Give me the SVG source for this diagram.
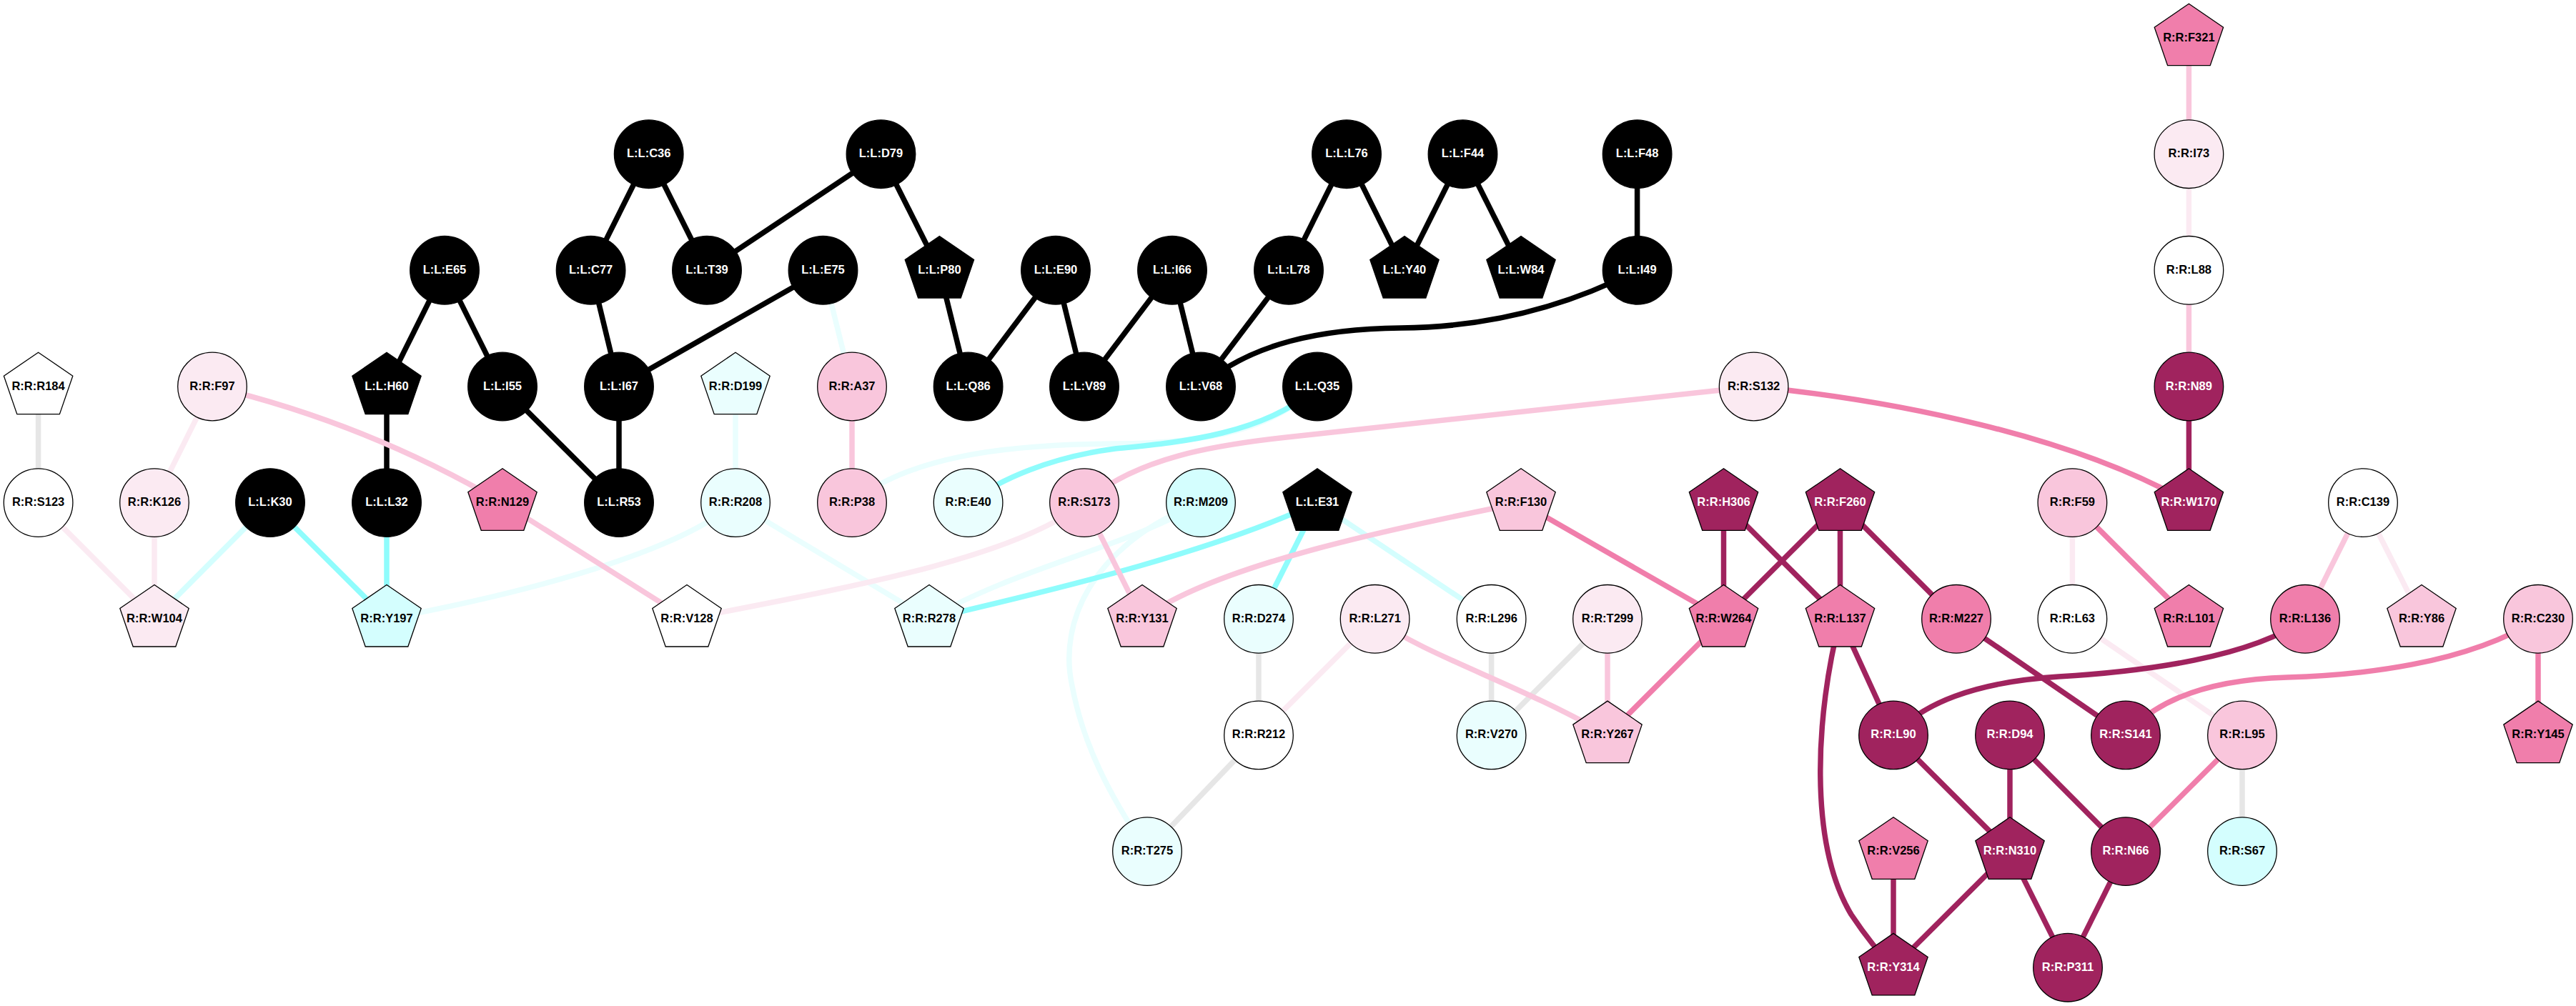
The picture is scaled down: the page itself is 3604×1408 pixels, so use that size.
<svg xmlns="http://www.w3.org/2000/svg" width="3604" height="1408" viewBox="0 0 3604 1408">
<style>
.e{fill:none;stroke-width:7.5}
.k{stroke:#000}
.dm{stroke:#a0235e}
.mp{stroke:#f07eab}
.pk{stroke:#f9c6dc}
.lp{stroke:#fbeaf2}
.cy{stroke:#8ffcfc}
.lc{stroke:#d4fefe}
.vc{stroke:#eafefe}
.gr{stroke:#e6e6e6}
.n{stroke:#000;stroke-width:1.3}
.fk{fill:#000}
.fdm{fill:#a0235e}
.fmp{fill:#f07eab}
.fpk{fill:#f9c6dc}
.flp{fill:#fbeaf2}
.flc{fill:#d4fefe}
.fvc{fill:#eafefe}
.fw{fill:#fff}
text{font-family:"Liberation Sans",Arial,sans-serif;font-weight:bold;font-size:16.5px;text-anchor:middle;fill:#000}
text.w{fill:#fff}
</style>
<defs>
<ellipse id="c" rx="48.3" ry="47.8"/>
<polygon id="p" points="0,-47.8 48.2,-14.8 29.8,38.7 -29.8,38.7 -48.2,-14.8"/>
</defs>
<g id="edges">
<!-- black -->
<line class="e k" x1="907.7" y1="215.7" x2="826.6" y2="378.3"/>
<line class="e k" x1="907.7" y1="215.7" x2="989" y2="378.3"/>
<line class="e k" x1="1232.5" y1="215.7" x2="989" y2="378.3"/>
<line class="e k" x1="1232.5" y1="215.7" x2="1314.4" y2="378.3"/>
<line class="e k" x1="622" y1="378.3" x2="541" y2="541"/>
<line class="e k" x1="622" y1="378.3" x2="703" y2="541"/>
<line class="e k" x1="826.6" y1="378.3" x2="866" y2="541"/>
<line class="e k" x1="1151.5" y1="378.3" x2="866" y2="541"/>
<line class="e k" x1="703" y1="541" x2="866" y2="703.6"/>
<line class="e k" x1="866" y1="541" x2="866" y2="703.6"/>
<line class="e k" x1="541" y1="541" x2="541" y2="703.6"/>
<line class="e k" x1="1314.4" y1="378.3" x2="1354.6" y2="541"/>
<line class="e k" x1="1477" y1="378.3" x2="1354.6" y2="541"/>
<line class="e k" x1="1477" y1="378.3" x2="1517" y2="541"/>
<line class="e k" x1="1640" y1="378.3" x2="1517" y2="541"/>
<line class="e k" x1="1640" y1="378.3" x2="1680" y2="541"/>
<line class="e k" x1="1803" y1="378.3" x2="1680" y2="541"/>
<line class="e k" x1="1884" y1="215.7" x2="1803" y2="378.3"/>
<line class="e k" x1="1884" y1="215.7" x2="1965" y2="378.3"/>
<line class="e k" x1="2046.5" y1="215.7" x2="1965" y2="378.3"/>
<line class="e k" x1="2046.5" y1="215.7" x2="2128" y2="378.3"/>
<line class="e k" x1="2290.6" y1="215.7" x2="2290.6" y2="378.3"/>
<path class="e k" d="M2290.6,378.3 C2190,430 2080,458 1960,459 C1850,460 1750,480 1680,541"/>
<!-- cyan -->
<line class="e lc" x1="378" y1="703.6" x2="216" y2="866.3"/>
<line class="e cy" x1="378" y1="703.6" x2="541" y2="866.3"/>
<line class="e cy" x1="541" y1="703.6" x2="541" y2="866.3"/>
<path class="e vc" d="M1192,703.6 C1270,640 1400,622 1560,621 C1700,620 1780,600 1843,541"/>
<path class="e cy" d="M1843,541 C1770,610 1640,620 1560,628 C1470,640 1400,670 1354.6,703.6"/>
<line class="e vc" x1="1151.5" y1="378.3" x2="1192" y2="541"/>
<line class="e vc" x1="1029" y1="541" x2="1029" y2="703.6"/>
<path class="e vc" d="M1029,703.6 C950,770 760,825 541,866.3"/>
<line class="e vc" x1="1029" y1="703.6" x2="1300" y2="866.3"/>
<path class="e vc" d="M1680,703.6 C1580,765 1420,795 1300,866.3"/>
<path class="e vc" d="M1680,703.6 C1530,760 1480,870 1500,960 C1515,1040 1550,1110 1605,1191.6"/>
<path class="e cy" d="M1843,703.6 C1700,770 1500,820 1300,866.3"/>
<line class="e cy" x1="1843" y1="703.6" x2="1761" y2="866.3"/>
<line class="e lc" x1="1843" y1="703.6" x2="2086.6" y2="866.3"/>
<!-- gray -->
<line class="e gr" x1="53.6" y1="541" x2="53.6" y2="703.6"/>
<line class="e gr" x1="1761" y1="866.3" x2="1761" y2="1028.9"/>
<line class="e gr" x1="1761" y1="1028.9" x2="1605" y2="1191.6"/>
<line class="e gr" x1="2086.6" y1="866.3" x2="2086.6" y2="1028.9"/>
<line class="e gr" x1="2249" y1="866.3" x2="2086.6" y2="1028.9"/>
<line class="e gr" x1="3137" y1="1028.9" x2="3137" y2="1191.6"/>
<!-- light pink -->
<line class="e lp" x1="53.6" y1="703.6" x2="216" y2="866.3"/>
<line class="e lp" x1="216" y1="703.6" x2="216" y2="866.3"/>
<line class="e lp" x1="297" y1="541" x2="216" y2="703.6"/>
<line class="e lp" x1="1923.6" y1="866.3" x2="1761" y2="1028.9"/>
<path class="e lp" d="M1517,703.6 C1420,780 1200,820 961,866.3"/>
<line class="e lp" x1="3062.4" y1="215.7" x2="3062.4" y2="378.3"/>
<line class="e lp" x1="2899.4" y1="703.6" x2="2899.4" y2="866.3"/>
<line class="e lp" x1="2899.4" y1="866.3" x2="3137" y2="1028.9"/>
<line class="e lp" x1="3306" y1="703.6" x2="3388" y2="866.3"/>
<!-- pink -->
<path class="e pk" d="M297,541 C420,570 560,620 703,703.6"/>
<line class="e pk" x1="703" y1="703.6" x2="961" y2="866.3"/>
<line class="e pk" x1="1192" y1="541" x2="1192" y2="703.6"/>
<path class="e pk" d="M2453.6,541 L1800,612 C1700,623 1590,640 1517,703.6"/>
<line class="e pk" x1="1517" y1="703.6" x2="1598" y2="866.3"/>
<path class="e pk" d="M2128,703.6 C1950,740 1700,790 1598,866.3"/>
<path class="e pk" d="M1923.6,866.3 C2000,920 2120,955 2249,1028.9"/>
<line class="e pk" x1="2249" y1="866.3" x2="2249" y2="1028.9"/>
<line class="e pk" x1="3062.4" y1="53" x2="3062.4" y2="215.7"/>
<line class="e pk" x1="3062.4" y1="378.3" x2="3062.4" y2="541"/>
<line class="e pk" x1="3306" y1="703.6" x2="3225" y2="866.3"/>
<!-- medium pink -->
<path class="e mp" d="M2453.6,541 C2650,560 2900,610 3062.4,703.6"/>
<line class="e mp" x1="2128" y1="703.6" x2="2411.5" y2="866.3"/>
<line class="e mp" x1="2411.5" y1="866.3" x2="2249" y2="1028.9"/>
<line class="e mp" x1="2899.4" y1="703.6" x2="3062.4" y2="866.3"/>
<path class="e mp" d="M3551,866.3 C3450,930 3300,945 3200,948 C3100,951 3020,975 2974,1028.9"/>
<line class="e mp" x1="3551" y1="866.3" x2="3551" y2="1028.9"/>
<line class="e mp" x1="3137" y1="1028.9" x2="2974" y2="1191.6"/>
<!-- dark magenta -->
<line class="e dm" x1="2411.5" y1="703.6" x2="2411.5" y2="866.3"/>
<line class="e dm" x1="2411.5" y1="703.6" x2="2574.5" y2="866.3"/>
<line class="e dm" x1="2574.5" y1="703.6" x2="2411.5" y2="866.3"/>
<line class="e dm" x1="2574.5" y1="703.6" x2="2574.5" y2="866.3"/>
<line class="e dm" x1="2574.5" y1="703.6" x2="2737" y2="866.3"/>
<line class="e dm" x1="3062.4" y1="541" x2="3062.4" y2="703.6"/>
<line class="e dm" x1="2574.5" y1="866.3" x2="2649" y2="1028.9"/>
<path class="e dm" d="M2574.5,866.3 C2540,1000 2530,1180 2590,1280 C2610,1310 2630,1335 2649,1354.2"/>
<line class="e dm" x1="2737" y1="866.3" x2="2974" y2="1028.9"/>
<path class="e dm" d="M3225,866.3 C3150,920 3000,940 2880,947 C2760,955 2690,985 2649,1028.9"/>
<line class="e dm" x1="2649" y1="1028.9" x2="2812" y2="1191.6"/>
<line class="e dm" x1="2812" y1="1028.9" x2="2812" y2="1191.6"/>
<line class="e dm" x1="2812" y1="1028.9" x2="2974" y2="1191.6"/>
<line class="e dm" x1="2649" y1="1191.6" x2="2649" y2="1354.2"/>
<line class="e dm" x1="2812" y1="1191.6" x2="2649" y2="1354.2"/>
<line class="e dm" x1="2812" y1="1191.6" x2="2893" y2="1354.2"/>
<line class="e dm" x1="2974" y1="1191.6" x2="2893" y2="1354.2"/>
</g>
<g id="nodes">
<g id="n-L-C36"><use href="#c" x="907.7" y="215.7" class="n fk"/><text class="w" x="907.7" y="220.2">L:L:C36</text></g>
<g id="n-L-D79"><use href="#c" x="1232.5" y="215.7" class="n fk"/><text class="w" x="1232.5" y="220.2">L:L:D79</text></g>
<g id="n-L-L76"><use href="#c" x="1884" y="215.7" class="n fk"/><text class="w" x="1884" y="220.2">L:L:L76</text></g>
<g id="n-L-F44"><use href="#c" x="2046.5" y="215.7" class="n fk"/><text class="w" x="2046.5" y="220.2">L:L:F44</text></g>
<g id="n-L-F48"><use href="#c" x="2290.6" y="215.7" class="n fk"/><text class="w" x="2290.6" y="220.2">L:L:F48</text></g>
<g id="n-R-F321"><use href="#p" x="3062.4" y="53" class="n fmp"/><text x="3062.4" y="57.5">R:R:F321</text></g>
<g id="n-R-I73"><use href="#c" x="3062.4" y="215.7" class="n flp"/><text x="3062.4" y="220.2">R:R:I73</text></g>
<g id="n-L-E65"><use href="#c" x="622" y="378.3" class="n fk"/><text class="w" x="622" y="382.8">L:L:E65</text></g>
<g id="n-L-C77"><use href="#c" x="826.6" y="378.3" class="n fk"/><text class="w" x="826.6" y="382.8">L:L:C77</text></g>
<g id="n-L-T39"><use href="#c" x="989" y="378.3" class="n fk"/><text class="w" x="989" y="382.8">L:L:T39</text></g>
<g id="n-L-E75"><use href="#c" x="1151.5" y="378.3" class="n fk"/><text class="w" x="1151.5" y="382.8">L:L:E75</text></g>
<g id="n-L-P80"><use href="#p" x="1314.4" y="378.3" class="n fk"/><text class="w" x="1314.4" y="382.8">L:L:P80</text></g>
<g id="n-L-E90"><use href="#c" x="1477" y="378.3" class="n fk"/><text class="w" x="1477" y="382.8">L:L:E90</text></g>
<g id="n-L-I66"><use href="#c" x="1640" y="378.3" class="n fk"/><text class="w" x="1640" y="382.8">L:L:I66</text></g>
<g id="n-L-L78"><use href="#c" x="1803" y="378.3" class="n fk"/><text class="w" x="1803" y="382.8">L:L:L78</text></g>
<g id="n-L-Y40"><use href="#p" x="1965" y="378.3" class="n fk"/><text class="w" x="1965" y="382.8">L:L:Y40</text></g>
<g id="n-L-W84"><use href="#p" x="2128" y="378.3" class="n fk"/><text class="w" x="2128" y="382.8">L:L:W84</text></g>
<g id="n-L-I49"><use href="#c" x="2290.6" y="378.3" class="n fk"/><text class="w" x="2290.6" y="382.8">L:L:I49</text></g>
<g id="n-R-L88"><use href="#c" x="3062.4" y="378.3" class="n fw"/><text x="3062.4" y="382.8">R:R:L88</text></g>
<g id="n-R-R184"><use href="#p" x="53.6" y="541" class="n fw"/><text x="53.6" y="545.5">R:R:R184</text></g>
<g id="n-R-F97"><use href="#c" x="297" y="541" class="n flp"/><text x="297" y="545.5">R:R:F97</text></g>
<g id="n-L-H60"><use href="#p" x="541" y="541" class="n fk"/><text class="w" x="541" y="545.5">L:L:H60</text></g>
<g id="n-L-I55"><use href="#c" x="703" y="541" class="n fk"/><text class="w" x="703" y="545.5">L:L:I55</text></g>
<g id="n-L-I67"><use href="#c" x="866" y="541" class="n fk"/><text class="w" x="866" y="545.5">L:L:I67</text></g>
<g id="n-R-D199"><use href="#p" x="1029" y="541" class="n fvc"/><text x="1029" y="545.5">R:R:D199</text></g>
<g id="n-R-A37"><use href="#c" x="1192" y="541" class="n fpk"/><text x="1192" y="545.5">R:R:A37</text></g>
<g id="n-L-Q86"><use href="#c" x="1354.6" y="541" class="n fk"/><text class="w" x="1354.6" y="545.5">L:L:Q86</text></g>
<g id="n-L-V89"><use href="#c" x="1517" y="541" class="n fk"/><text class="w" x="1517" y="545.5">L:L:V89</text></g>
<g id="n-L-V68"><use href="#c" x="1680" y="541" class="n fk"/><text class="w" x="1680" y="545.5">L:L:V68</text></g>
<g id="n-L-Q35"><use href="#c" x="1843" y="541" class="n fk"/><text class="w" x="1843" y="545.5">L:L:Q35</text></g>
<g id="n-R-S132"><use href="#c" x="2453.6" y="541" class="n flp"/><text x="2453.6" y="545.5">R:R:S132</text></g>
<g id="n-R-N89"><use href="#c" x="3062.4" y="541" class="n fdm"/><text class="w" x="3062.4" y="545.5">R:R:N89</text></g>
<g id="n-R-S123"><use href="#c" x="53.6" y="703.6" class="n fw"/><text x="53.6" y="708.1">R:R:S123</text></g>
<g id="n-R-K126"><use href="#c" x="216" y="703.6" class="n flp"/><text x="216" y="708.1">R:R:K126</text></g>
<g id="n-L-K30"><use href="#c" x="378" y="703.6" class="n fk"/><text class="w" x="378" y="708.1">L:L:K30</text></g>
<g id="n-L-L32"><use href="#c" x="541" y="703.6" class="n fk"/><text class="w" x="541" y="708.1">L:L:L32</text></g>
<g id="n-R-N129"><use href="#p" x="703" y="703.6" class="n fmp"/><text x="703" y="708.1">R:R:N129</text></g>
<g id="n-L-R53"><use href="#c" x="866" y="703.6" class="n fk"/><text class="w" x="866" y="708.1">L:L:R53</text></g>
<g id="n-R-R208"><use href="#c" x="1029" y="703.6" class="n fvc"/><text x="1029" y="708.1">R:R:R208</text></g>
<g id="n-R-P38"><use href="#c" x="1192" y="703.6" class="n fpk"/><text x="1192" y="708.1">R:R:P38</text></g>
<g id="n-R-E40"><use href="#c" x="1354.6" y="703.6" class="n fvc"/><text x="1354.6" y="708.1">R:R:E40</text></g>
<g id="n-R-S173"><use href="#c" x="1517" y="703.6" class="n fpk"/><text x="1517" y="708.1">R:R:S173</text></g>
<g id="n-R-M209"><use href="#c" x="1680" y="703.6" class="n flc"/><text x="1680" y="708.1">R:R:M209</text></g>
<g id="n-L-E31"><use href="#p" x="1843" y="703.6" class="n fk"/><text class="w" x="1843" y="708.1">L:L:E31</text></g>
<g id="n-R-F130"><use href="#p" x="2128" y="703.6" class="n fpk"/><text x="2128" y="708.1">R:R:F130</text></g>
<g id="n-R-H306"><use href="#p" x="2411.5" y="703.6" class="n fdm"/><text class="w" x="2411.5" y="708.1">R:R:H306</text></g>
<g id="n-R-F260"><use href="#p" x="2574.5" y="703.6" class="n fdm"/><text class="w" x="2574.5" y="708.1">R:R:F260</text></g>
<g id="n-R-F59"><use href="#c" x="2899.4" y="703.6" class="n fpk"/><text x="2899.4" y="708.1">R:R:F59</text></g>
<g id="n-R-W170"><use href="#p" x="3062.4" y="703.6" class="n fdm"/><text class="w" x="3062.4" y="708.1">R:R:W170</text></g>
<g id="n-R-C139"><use href="#c" x="3306" y="703.6" class="n fw"/><text x="3306" y="708.1">R:R:C139</text></g>
<g id="n-R-W104"><use href="#p" x="216" y="866.3" class="n flp"/><text x="216" y="870.8">R:R:W104</text></g>
<g id="n-R-Y197"><use href="#p" x="541" y="866.3" class="n flc"/><text x="541" y="870.8">R:R:Y197</text></g>
<g id="n-R-V128"><use href="#p" x="961" y="866.3" class="n fw"/><text x="961" y="870.8">R:R:V128</text></g>
<g id="n-R-R278"><use href="#p" x="1300" y="866.3" class="n fvc"/><text x="1300" y="870.8">R:R:R278</text></g>
<g id="n-R-Y131"><use href="#p" x="1598" y="866.3" class="n fpk"/><text x="1598" y="870.8">R:R:Y131</text></g>
<g id="n-R-D274"><use href="#c" x="1761" y="866.3" class="n fvc"/><text x="1761" y="870.8">R:R:D274</text></g>
<g id="n-R-L271"><use href="#c" x="1923.6" y="866.3" class="n flp"/><text x="1923.6" y="870.8">R:R:L271</text></g>
<g id="n-R-L296"><use href="#c" x="2086.6" y="866.3" class="n fw"/><text x="2086.6" y="870.8">R:R:L296</text></g>
<g id="n-R-T299"><use href="#c" x="2249" y="866.3" class="n flp"/><text x="2249" y="870.8">R:R:T299</text></g>
<g id="n-R-W264"><use href="#p" x="2411.5" y="866.3" class="n fmp"/><text x="2411.5" y="870.8">R:R:W264</text></g>
<g id="n-R-L137"><use href="#p" x="2574.5" y="866.3" class="n fmp"/><text x="2574.5" y="870.8">R:R:L137</text></g>
<g id="n-R-M227"><use href="#c" x="2737" y="866.3" class="n fmp"/><text x="2737" y="870.8">R:R:M227</text></g>
<g id="n-R-L63"><use href="#c" x="2899.4" y="866.3" class="n fw"/><text x="2899.4" y="870.8">R:R:L63</text></g>
<g id="n-R-L101"><use href="#p" x="3062.4" y="866.3" class="n fmp"/><text x="3062.4" y="870.8">R:R:L101</text></g>
<g id="n-R-L136"><use href="#c" x="3225" y="866.3" class="n fmp"/><text x="3225" y="870.8">R:R:L136</text></g>
<g id="n-R-Y86"><use href="#p" x="3388" y="866.3" class="n fpk"/><text x="3388" y="870.8">R:R:Y86</text></g>
<g id="n-R-C230"><use href="#c" x="3551" y="866.3" class="n fpk"/><text x="3551" y="870.8">R:R:C230</text></g>
<g id="n-R-R212"><use href="#c" x="1761" y="1028.9" class="n fw"/><text x="1761" y="1033.4">R:R:R212</text></g>
<g id="n-R-V270"><use href="#c" x="2086.6" y="1028.9" class="n fvc"/><text x="2086.6" y="1033.4">R:R:V270</text></g>
<g id="n-R-Y267"><use href="#p" x="2249" y="1028.9" class="n fpk"/><text x="2249" y="1033.4">R:R:Y267</text></g>
<g id="n-R-L90"><use href="#c" x="2649" y="1028.9" class="n fdm"/><text class="w" x="2649" y="1033.4">R:R:L90</text></g>
<g id="n-R-D94"><use href="#c" x="2812" y="1028.9" class="n fdm"/><text class="w" x="2812" y="1033.4">R:R:D94</text></g>
<g id="n-R-S141"><use href="#c" x="2974" y="1028.9" class="n fdm"/><text class="w" x="2974" y="1033.4">R:R:S141</text></g>
<g id="n-R-L95"><use href="#c" x="3137" y="1028.9" class="n fpk"/><text x="3137" y="1033.4">R:R:L95</text></g>
<g id="n-R-Y145"><use href="#p" x="3551" y="1028.9" class="n fmp"/><text x="3551" y="1033.4">R:R:Y145</text></g>
<g id="n-R-T275"><use href="#c" x="1605" y="1191.6" class="n fvc"/><text x="1605" y="1196.1">R:R:T275</text></g>
<g id="n-R-V256"><use href="#p" x="2649" y="1191.6" class="n fmp"/><text x="2649" y="1196.1">R:R:V256</text></g>
<g id="n-R-N310"><use href="#p" x="2812" y="1191.6" class="n fdm"/><text class="w" x="2812" y="1196.1">R:R:N310</text></g>
<g id="n-R-N66"><use href="#c" x="2974" y="1191.6" class="n fdm"/><text class="w" x="2974" y="1196.1">R:R:N66</text></g>
<g id="n-R-S67"><use href="#c" x="3137" y="1191.6" class="n flc"/><text x="3137" y="1196.1">R:R:S67</text></g>
<g id="n-R-Y314"><use href="#p" x="2649" y="1354.2" class="n fdm"/><text class="w" x="2649" y="1358.7">R:R:Y314</text></g>
<g id="n-R-P311"><use href="#c" x="2893" y="1354.2" class="n fdm"/><text class="w" x="2893" y="1358.7">R:R:P311</text></g>
</g>
</svg>
